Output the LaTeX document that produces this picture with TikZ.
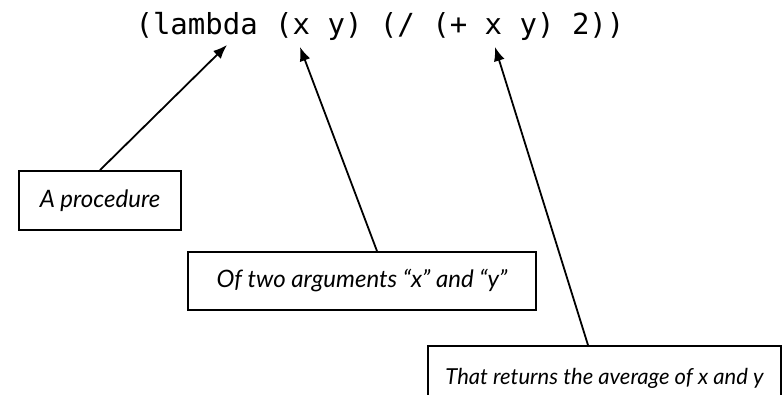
\documentclass[tikz,border=0pt]{standalone}
\usepackage{fontspec}
\setmainfont{Lato}
\setmonofont{DejaVu Sans Mono}
\usetikzlibrary{arrows.meta}
\tikzset{
  note/.style={draw,line width=1.8pt,inner sep=0pt,
    font=\fontsize{24}{28}\selectfont\itshape},
  pointer/.style={-{Latex[length=14pt,width=11pt]},line width=1.8pt}
}

\begin{document}
\begin{tikzpicture}[x=1pt,y=-1pt]
  \useasboundingbox (0,0) rectangle (782,395);
  % the expression
  \node[font=\fontsize{29}{34}\selectfont\ttfamily,anchor=base,inner sep=0pt]
    (code) at (380,35) {(lambda (x y) (/ (+ x y) 2))};
  \coordinate (lam) at (227,45);
  \coordinate (args) at (300,47);
  \coordinate (body) at (495,47);

  % the notes
  \node[note,minimum width=162,minimum height=59] (proc) at (100,200.5)
    {A procedure};
  \node[note,minimum width=348,minimum height=58] (two) at (362,281)
    {Of two arguments “x” and “y”};
  \node[note,minimum width=353,minimum height=64,
    font=\fontsize{22}{26}\selectfont\itshape] (ret) at (604.5,378)
    {That returns the average of x and y};

  \draw[pointer] (proc.north) -- (lam);
  \draw[pointer] ([xshift=15]two.north) -- (args);
  \draw[pointer] ([xshift=-16.5]ret.north) -- (body);
\end{tikzpicture}
\end{document}
